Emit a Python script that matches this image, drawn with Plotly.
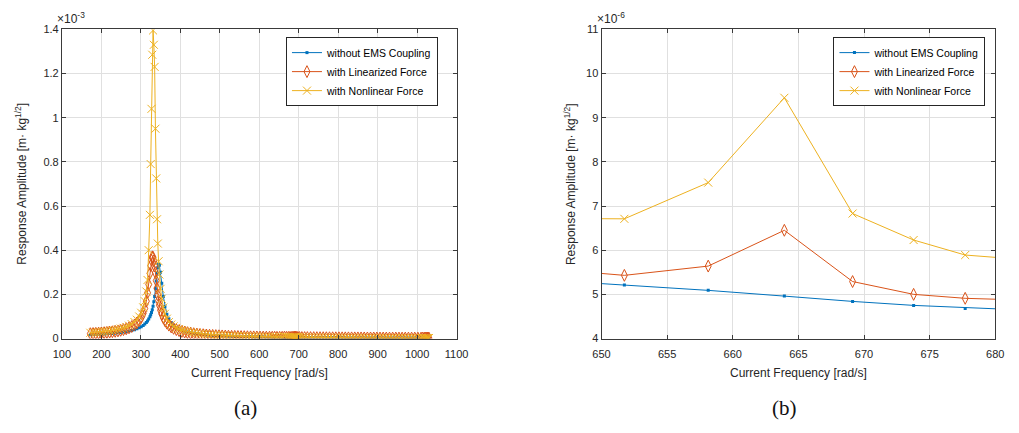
import plotly.graph_objects as go

# Excitation frequency sweep [rad/s]
FREQ = [
    172, 179, 186, 193, 200, 207, 214, 221, 228, 235, 242, 249, 256, 263, 270, 277, 284,
    290, 296, 301, 306, 310, 314, 317, 320, 323, 325, 327, 329, 331, 333, 335, 337, 339,
    341, 343, 345, 347, 350, 353, 357, 361, 366, 371, 377, 383, 390, 397, 404, 411, 418,
    426, 434, 442, 450,
    458, 466, 474, 482, 490, 498, 506, 514, 522, 530, 538, 546, 554, 562, 570, 578, 586,
    594, 602, 610, 618, 626,
    633, 639, 644.9,
    651.74, 658.13, 663.93, 669.13, 673.78, 677.71,
    681.2, 684.2, 686.6, 688.4, 689.6, 690.5, 691.3, 692.2, 693.5, 695.3, 698, 702, 708, 715, 722,
    730, 738, 746, 754, 762, 770, 778, 786, 794, 802, 810, 818, 826, 834, 842, 850, 858, 866,
    874, 882, 890, 898, 906, 914, 922, 930, 938, 946, 954, 962, 970, 978, 986, 994, 1002, 1010,
    1014, 1018, 1021, 1024, 1026, 1028, 1030,
]

# Response amplitudes, in units of 1e-6 m*kg^(1/2)
AMP_UNCOUPLED = [
    17.5, 18.0, 18.5, 19.1, 19.8, 20.5, 21.3, 22.2, 23.2, 24.4, 25.7, 27.2, 29.0, 31.0, 33.5, 36.4, 40.0,
    43.8, 48.5, 53.3, 59.4, 65.4, 72.8, 79.8, 88.2, 98.9, 107.5, 118, 130.6, 146.5, 166.9, 190,
    225, 260, 295, 322, 336, 332, 300, 250, 190, 145, 110, 90, 73, 60.5, 50.2, 42.7, 37.1, 32.8,
    29.3, 26.0, 23.4, 21.2, 19.4,
    17.8, 16.4, 15.2, 14.2, 13.3, 12.5, 11.7, 11.05, 10.45, 9.9, 9.4, 8.94, 8.52, 8.13, 7.77,
    7.44, 7.13, 6.84, 6.57, 6.31, 6.08, 5.85,
    5.67, 5.52, 5.34,
    5.21, 5.09, 4.96, 4.84, 4.75, 4.68,
    4.62, 4.571, 4.528, 4.496, 4.475, 4.460, 4.446, 4.431, 4.408, 4.378, 4.333, 4.268, 4.173,
    4.067, 3.965,
    3.853, 3.747, 3.645, 3.547, 3.454, 3.364, 3.278, 3.195, 3.116, 3.040, 2.967, 2.897, 2.829,
    2.763, 2.700, 2.640, 2.581, 2.525, 2.470, 2.417, 2.366, 2.317, 2.269, 2.223, 2.178, 2.135,
    2.093, 2.052, 2.013, 1.974, 1.937, 1.901, 1.866, 1.832, 1.799, 1.767,
    1.751, 1.735, 1.724, 1.712, 1.705, 1.697, 1.690,
]

AMP_LINEARIZED = [
    22.0, 22.7, 23.5, 24.3, 25.3, 26.4, 27.6, 29.0, 30.6, 32.5, 34.6, 37.1, 40.2, 43.9, 48.4, 54.2, 61.7,
    70.3, 81.9, 95.2, 114, 136, 169, 207, 245, 295, 330, 355, 370, 368, 352, 328,
    298, 262, 228, 198, 172, 151, 128, 111, 94, 81.3, 69.5, 60.6, 52.4, 46.1, 40.3, 35.8, 32.1, 29.0,
    26.5, 24.0, 21.9, 20.2, 18.6,
    17.3, 16.1, 15.0, 14.1, 13.3, 12.5, 11.8, 11.2, 10.65, 10.1, 9.65, 9.2, 8.8, 8.42, 8.07,
    7.74, 7.43, 7.14, 6.87, 6.62, 6.38, 6.16,
    5.97, 5.82, 5.60,
    5.43, 5.64, 6.45, 5.29, 5.00, 4.91,
    4.86, 4.82, 4.79, 4.77, 4.752, 4.736, 4.722, 4.706, 4.683, 4.652, 4.606, 4.539, 4.441,
    4.331, 4.225,
    4.109, 3.999, 3.893, 3.791, 3.694, 3.600, 3.510, 3.424, 3.341, 3.261, 3.184, 3.110, 3.039,
    2.970, 2.904, 2.840, 2.778, 2.718, 2.660, 2.604, 2.550, 2.498, 2.447, 2.398, 2.351, 2.305,
    2.260, 2.217, 2.175, 2.134, 2.094, 2.056, 2.018, 1.982, 1.947, 1.912,
    1.895, 1.879, 1.866, 1.854, 1.846, 1.838, 1.830,
]

AMP_NONLINEAR = [
    26.1, 27.0, 27.9, 29.0, 30.1, 31.5, 32.9, 34.6, 36.6, 38.8, 41.4, 44.5, 48.2, 52.6, 58.2, 65.2, 74.5,
    85.2, 99.7, 116.6, 141, 169, 213, 265, 400, 560, 790, 1040, 1285, 1395, 1330, 1230,
    950, 725, 540, 430, 350, 290, 225, 180, 140, 112, 90, 74, 63, 55, 48.1, 42.8, 38.4, 34.8,
    31.7, 28.8, 26.4, 24.2, 22.4,
    20.8, 19.4, 18.1, 17.0, 16.0, 15.1, 14.3, 13.5, 12.85, 12.2, 11.65, 11.1, 10.6, 10.17, 9.74,
    9.35, 8.97, 8.63, 8.30, 8.0, 7.71, 7.44,
    7.15, 6.92, 6.72,
    6.71, 7.53, 9.45, 6.83, 6.23, 5.89,
    5.81, 5.715, 5.663, 5.624, 5.599, 5.580, 5.564, 5.545, 5.518, 5.481, 5.427, 5.348, 5.233,
    5.103, 4.979,
    4.843, 4.713, 4.588, 4.468, 4.353, 4.243, 4.138, 4.036, 3.938, 3.844, 3.754, 3.667, 3.583,
    3.502, 3.423, 3.348, 3.275, 3.205, 3.137, 3.071, 3.007, 2.946, 2.886, 2.828, 2.772, 2.718,
    2.665, 2.614, 2.565, 2.517, 2.470, 2.425, 2.380, 2.338, 2.296, 2.255,
    2.236, 2.216, 2.201, 2.187, 2.178, 2.168, 2.159,
]

SERIES_NAMES = ["without EMS Coupling", "with Linearized Force", "with Nonlinear Force"]

LEFT_X_TICKS = [100, 200, 300, 400, 500, 600, 700, 800, 900, 1000, 1100]
LEFT_Y_TICKS = [0, 200, 400, 600, 800, 1000, 1200, 1400]
LEFT_Y_LABELS = ["0", "0.2", "0.4", "0.6", "0.8", "1", "1.2", "1.4"]
RIGHT_X_TICKS = [650, 655, 660, 665, 670, 675, 680]
RIGHT_Y_TICKS = [4, 5, 6, 7, 8, 9, 10, 11]

X_TITLE = "Current Frequency [rad/s]"
Y_TITLE = "Response Amplitude [m\u00b7 kg<sup>1/2</sup>]"

W, H = 1019, 433
FONT = "Liberation Sans, Arial, sans-serif"
TEXT_COLOR = "#262626"
GRID_COLOR = "#e0e0e0"
COLORS = ["#0072BD", "#D95319", "#EDB120"]
MARKERS = [
    dict(symbol="square", size=3, line=dict(width=0)),
    dict(symbol="diamond-tall-open", size=8.5, line=dict(width=1)),
    dict(symbol="x-thin-open", size=8, line=dict(width=1)),
]

# pixel boxes of the two axes: (left, right, top, bottom)
LEFT_BOX = (54, 457, 24, 342)
RIGHT_BOX = (605, 1007, 24, 342)


def px_x(x):
    return x / W


def px_y(y):
    return (H - y) / H


fig = go.Figure()
series = [AMP_UNCOUPLED, AMP_LINEARIZED, AMP_NONLINEAR]

for axis_id, legend_id in (("", "legend"), ("2", "legend2")):
    for name, amp, color, marker in zip(SERIES_NAMES, series, COLORS, MARKERS):
        fig.add_trace(go.Scatter(
            x=FREQ, y=amp, name=name, mode="lines+markers",
            line=dict(color=color, width=1),
            marker=dict(color=color, **marker),
            xaxis="x" + axis_id, yaxis="y" + axis_id,
            legend=legend_id, showlegend=True,
        ))


def axis_style(**kw):
    base = dict(
        showline=True, linecolor="#3a3a3a", linewidth=1, mirror="ticks",
        ticks="inside", ticklen=4, tickwidth=1, tickcolor="#3a3a3a",
        showgrid=True, gridcolor=GRID_COLOR, gridwidth=1, zeroline=False,
        tickfont=dict(family=FONT, size=11, color=TEXT_COLOR),
    )
    base.update(kw)
    return base


fig.update_layout(
    width=W, height=H, margin=dict(l=0, r=0, t=0, b=0),
    paper_bgcolor="white", plot_bgcolor="white",
    xaxis=axis_style(domain=[px_x(LEFT_BOX[0]), px_x(LEFT_BOX[1])], range=[100, 1100],
                     tickvals=LEFT_X_TICKS, anchor="y", ticklabelstandoff=5),
    yaxis=axis_style(domain=[px_y(LEFT_BOX[3]), px_y(LEFT_BOX[2])], range=[0, 1400],
                     tickvals=LEFT_Y_TICKS, ticktext=LEFT_Y_LABELS, anchor="x"),
    xaxis2=axis_style(domain=[px_x(RIGHT_BOX[0]), px_x(RIGHT_BOX[1])], range=[650, 680],
                      tickvals=RIGHT_X_TICKS, anchor="y2", ticklabelstandoff=5),
    yaxis2=axis_style(domain=[px_y(RIGHT_BOX[3]), px_y(RIGHT_BOX[2])], range=[4, 11],
                      tickvals=RIGHT_Y_TICKS, anchor="x2"),
    showlegend=True,
)

legend_common = dict(
    bgcolor="white", bordercolor="#262626", borderwidth=1,
    font=dict(family=FONT, size=10.5, color="#000000"),
    xanchor="right", yanchor="top", tracegroupgap=0, itemwidth=30,
)
fig.update_layout(
    legend=dict(x=px_x(438), y=px_y(32), **legend_common),
    legend2=dict(x=px_x(997), y=px_y(32), **legend_common),
)

annotations = []
for box, exponent, tag, ytitle_x in ((LEFT_BOX, "-3", "(a)", 12), (RIGHT_BOX, "-6", "(b)", 573)):
    left, right, top, bottom = box
    cx = (left + right) / 2
    annotations.append(dict(
        x=px_x(cx), y=px_y(377), xref="paper", yref="paper", showarrow=False,
        text=X_TITLE, font=dict(family=FONT, size=12, color=TEXT_COLOR),
        xanchor="center", yanchor="middle",
    ))
    annotations.append(dict(
        x=px_x(ytitle_x), y=px_y((top + bottom) / 2), xref="paper", yref="paper",
        showarrow=False, text=Y_TITLE, textangle=-90,
        font=dict(family=FONT, size=12, color=TEXT_COLOR),
        xanchor="center", yanchor="middle",
    ))
    annotations.append(dict(
        x=px_x(left - 7), y=px_y(top - 1), xref="paper", yref="paper", showarrow=False,
        text="\u00d710<sup>" + exponent + "</sup>",
        font=dict(family=FONT, size=12, color=TEXT_COLOR),
        xanchor="left", yanchor="bottom",
    ))
    annotations.append(dict(
        x=px_x(cx - 14), y=px_y(413), xref="paper", yref="paper", showarrow=False,
        text=tag, font=dict(family="Liberation Serif, DejaVu Serif, serif", size=21, color="#111111"),
        xanchor="center", yanchor="middle",
    ))
fig.update_layout(annotations=annotations)

fig.write_html("out.html")
